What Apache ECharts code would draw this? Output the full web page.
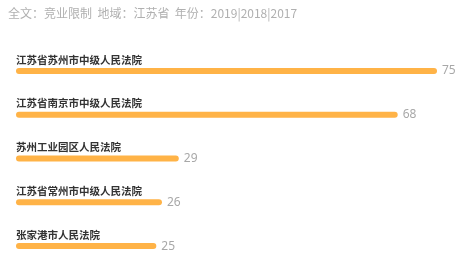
<!DOCTYPE html>
<html>
<head>
<meta charset="utf-8">
<script src="https://cdn.jsdelivr.net/npm/echarts@6/dist/echarts.min.js"></script>
<style>
html,body{margin:0;padding:0;background:#fff;overflow:hidden;}
#main{width:456px;height:268px;}
</style>
</head>
<body>
<div id="main"></div>
<script>
var titleText = '全文：竞业限制  地域：江苏省  年份：2019|2018|2017';
var courts = ['江苏省苏州市中级人民法院', '江苏省南京市中级人民法院', '苏州工业园区人民法院', '江苏省常州市中级人民法院', '张家港市人民法院'];
var counts = [75, 68, 29, 26, 25];

var myChart = echarts.init(document.getElementById('main'));
var option = {
	backgroundColor: '#fff',
	title: {
		text: titleText,
		left: 3,
		top: 2,
		textStyle: {
			fontSize: 12,
			fontWeight: 'normal',
			color: '#b0b0b0',
			fontFamily: 'Noto Sans CJK SC'
		}
	},
	grid: {
		left: 16,
		right: 19,
		top: 49,
		bottom: 0
	},
	xAxis: {
		type: 'value',
		min: 0,
		max: 75,
		show: false
	},
	yAxis: {
		type: 'category',
		data: courts,
		inverse: true,
		axisLine: {show: false},
		axisTick: {show: false},
		axisLabel: {
			inside: true,
			margin: 0,
			align: 'left',
			verticalAlign: 'bottom',
			padding: [0, 0, 6, 0],
			fontSize: 10.5,
			fontWeight: 'bold',
			color: '#333',
			fontFamily: 'Noto Sans CJK SC'
		}
	},
	series: [{
		type: 'bar',
		data: counts,
		barWidth: 6,
		itemStyle: {
			color: '#ffb347',
			borderRadius: 3
		},
		label: {
			show: true,
			position: 'right',
			distance: 5,
			fontSize: 12,
			color: '#a8a8a8',
			fontFamily: 'Noto Sans'
		}
	}]
};
myChart.setOption(option, true);
</script>
</body>
</html>
